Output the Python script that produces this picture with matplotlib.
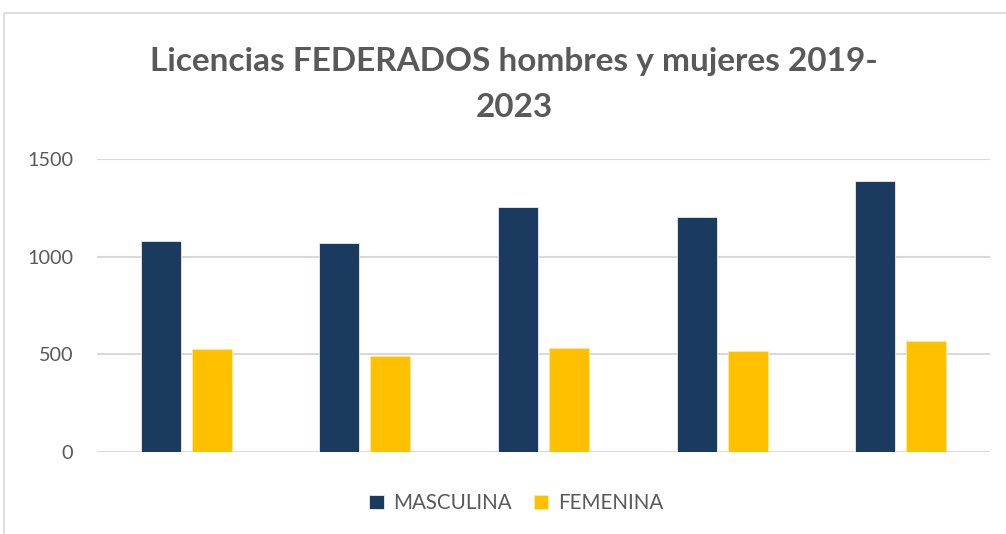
import matplotlib
matplotlib.use('Agg')
import matplotlib.pyplot as plt
import numpy as np
from matplotlib.patches import Rectangle

# data (2019-2023)
years = ['2019', '2020', '2021', '2022', '2023']
masculina = [1078, 1068, 1256, 1201, 1389]
femenina = [525, 492, 531, 516, 567]
y_ticks = [0, 500, 1000, 1500]

navy = '#1A3A5F'
gold = '#FFC000'
grey_txt = '#595959'
grid_c = '#D9D9D9'

plt.rcParams['font.family'] = ['Lato', 'DejaVu Sans']

fig = plt.figure(figsize=(10.06, 5.34), dpi=100)

# chart frame (cropped on right/bottom)
fig.patches.append(Rectangle((4 / 1006, -0.1), 1.2, (534 - 13) / 534 + 0.1,
                             transform=fig.transFigure, fill=False,
                             edgecolor='#D9D9D9', linewidth=1.2))

ax = fig.add_axes([96.7 / 1006, 1 - 451.7 / 534, (990.2 - 96.7) / 1006, (451.7 - 159) / 534])

x = np.arange(len(years))
w = 0.224
off = 0.1427
ax.bar(x - off, masculina, w, color=navy, edgecolor='#E8ECF2', linewidth=0.6, label='MASCULINA', zorder=3)
ax.bar(x + off, femenina, w, color=gold, edgecolor='#FFE9A0', linewidth=0.6, label='FEMENINA', zorder=3)

ax.set_xlim(-0.5, len(years) - 0.5)
ax.set_ylim(0, 1500)
ax.set_yticks(y_ticks)
ax.set_xticks([])
ax.tick_params(axis='y', length=0, pad=17, labelsize=14.3, labelcolor=grey_txt)
for s in ax.spines.values():
    s.set_visible(False)
for t in y_ticks:
    ax.axhline(t, color=grid_c, linewidth=1.5, zorder=1)

fig.text(514 / 1006, 1 - 71 / 534, 'Licencias FEDERADOS hombres y mujeres 2019-',
         ha='center', va='baseline', fontsize=24, fontweight='bold', color=grey_txt)
fig.text(514 / 1006, 1 - 117 / 534, '2023',
         ha='center', va='baseline', fontsize=24, fontweight='bold', color=grey_txt)

leg = fig.legend(loc='center', bbox_to_anchor=(516 / 1006, 1 - 503 / 534), ncol=2,
                 frameon=False, fontsize=14.8, handlelength=0.7, handleheight=0.7,
                 handletextpad=0.45, columnspacing=1.1)
for t in leg.get_texts():
    t.set_color(grey_txt)

fig.savefig('out.png', dpi=100)
